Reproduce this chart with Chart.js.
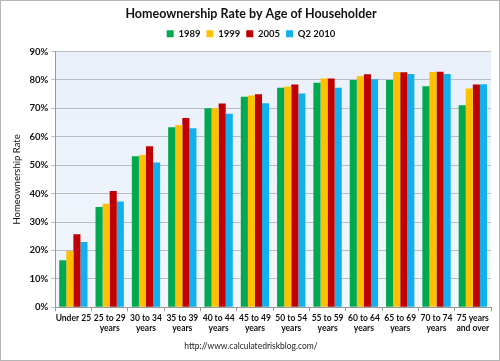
<!DOCTYPE html>
<html lang="en">
    <head>
        <meta charset="UTF-8" />
        <title>Homeownership Rate by Age of Householder</title>
        <script src="https://cdn.jsdelivr.net/npm/chart.js@4.0.1/dist/chart.umd.min.js"></script>
        <style>
            html, body { margin: 0; padding: 0; background: #fff; }
            div.main { width: 500px; height: 361px; }
        </style>
    </head>
    <body>
        <div class="main">
            <canvas id="myChart" width="500" height="361"></canvas>
        </div>

        <script>
            const ageGroups = [
                "Under 25", ["25 to 29", "years"], ["30 to 34", "years"], ["35 to 39", "years"],
                ["40 to 44", "years"], ["45 to 49", "years"], ["50 to 54", "years"], ["55 to 59", "years"],
                ["60 to 64", "years"], ["65 to 69", "years"], ["70 to 74", "years"], ["75 years", "and over"]
            ];
            const rate1989 = [16.5, 35.3, 53.1, 63.3, 70.0, 74.1, 77.2, 79.0, 80.0, 80.0, 77.8, 71.1];
            const rate1999 = [19.8, 36.4, 53.6, 64.1, 70.0, 74.5, 77.7, 80.5, 81.3, 82.8, 82.8, 77.0];
            const rate2005 = [25.7, 40.9, 56.7, 66.6, 71.7, 75.0, 78.4, 80.5, 82.0, 82.7, 82.9, 78.4];
            const rateQ2_2010 = [23.0, 37.2, 50.9, 63.0, 68.1, 71.8, 75.2, 77.2, 80.2, 82.1, 82.1, 78.5];

            const font = "Lato, 'Open Sans', sans-serif";

            // light blue plot background + grey frame round the whole picture
            const backdrop = {
                id: "backdrop",
                beforeDraw(chart) {
                    const { ctx, chartArea: a } = chart;
                    ctx.save();
                    const g = ctx.createLinearGradient(0, a.top, 0, a.bottom);
                    g.addColorStop(0, "#e9f0fa");
                    g.addColorStop(1, "#f2f6fc");
                    ctx.fillStyle = g;
                    ctx.fillRect(a.left, a.top, a.right - a.left, a.bottom - a.top);
                    ctx.strokeStyle = "#b5b5b5";
                    ctx.lineWidth = 1;
                    ctx.strokeRect(0.5, 0.5, chart.width - 1, chart.height - 1);
                    ctx.restore();
                },
            };

            // a bit more room under the legend
            const legendGap = {
                id: "legendGap",
                beforeInit(chart) {
                    const fit = chart.legend.fit;
                    chart.legend.fit = function () {
                        fit.bind(chart.legend)();
                        this.height += 3;
                    };
                },
            };

            const ctx = document.getElementById("myChart").getContext("2d");
            const myChart = new Chart(ctx, {
                type: "bar",
                data: {
                    labels: ageGroups,
                    datasets: [
                        { label: "1989", data: rate1989, backgroundColor: "#00a84f" },
                        { label: "1999", data: rate1999, backgroundColor: "#ffc000" },
                        { label: "2005", data: rate2005, backgroundColor: "#c00000" },
                        { label: "Q2 2010", data: rateQ2_2010, backgroundColor: "#12b0ec" },
                    ],
                },
                options: {
                    responsive: false,
                    animation: false,
                    devicePixelRatio: 1,
                    layout: { padding: { left: 11, right: 9, top: 2, bottom: 6 } },
                    datasets: { bar: { categoryPercentage: 0.78, barPercentage: 1.0 } },
                    plugins: {
                        title: {
                            display: true,
                            text: "Homeownership Rate by Age of Householder",
                            color: "#111",
                            font: { family: font, size: 12.5, weight: "bold" },
                            padding: { top: 4, bottom: 2 },
                        },
                        legend: {
                            labels: {
                                boxWidth: 7,
                                boxHeight: 7,
                                padding: 6,
                                color: "#111",
                                font: { family: font, size: 9.5, weight: "bold" },
                            },
                        },
                        subtitle: {
                            display: true,
                            position: "bottom",
                            text: "http://www.calculatedriskblog.com/",
                            color: "#222",
                            font: { family: font, size: 8.5 },
                            padding: { top: 6, bottom: 4 },
                        },
                        tooltip: { enabled: false },
                    },
                    scales: {
                        x: {
                            grid: { drawOnChartArea: false, drawTicks: true, tickLength: 4, color: "#999" },
                            border: { color: "#999" },
                            ticks: {
                                color: "#111",
                                maxRotation: 0,
                                autoSkip: false,
                                padding: 2,
                                font: { family: font, size: 8.5, weight: "bold", lineHeight: 1.15 },
                            },
                        },
                        y: {
                            min: 0,
                            max: 90,
                            grid: { color: "#b9bcc2", tickLength: 4 },
                            border: { color: "#999" },
                            ticks: {
                                stepSize: 10,
                                color: "#111",
                                padding: 3,
                                font: { family: font, size: 9.5, weight: "bold" },
                                callback: (v) => v + "%",
                            },
                            title: {
                                display: true,
                                text: "Homeownership Rate",
                                color: "#111",
                                font: { family: font, size: 9.5 },
                                padding: { top: 0, bottom: 4 },
                            },
                        },
                    },
                },
                plugins: [backdrop, legendGap],
            });
        </script>
    </body>
</html>
